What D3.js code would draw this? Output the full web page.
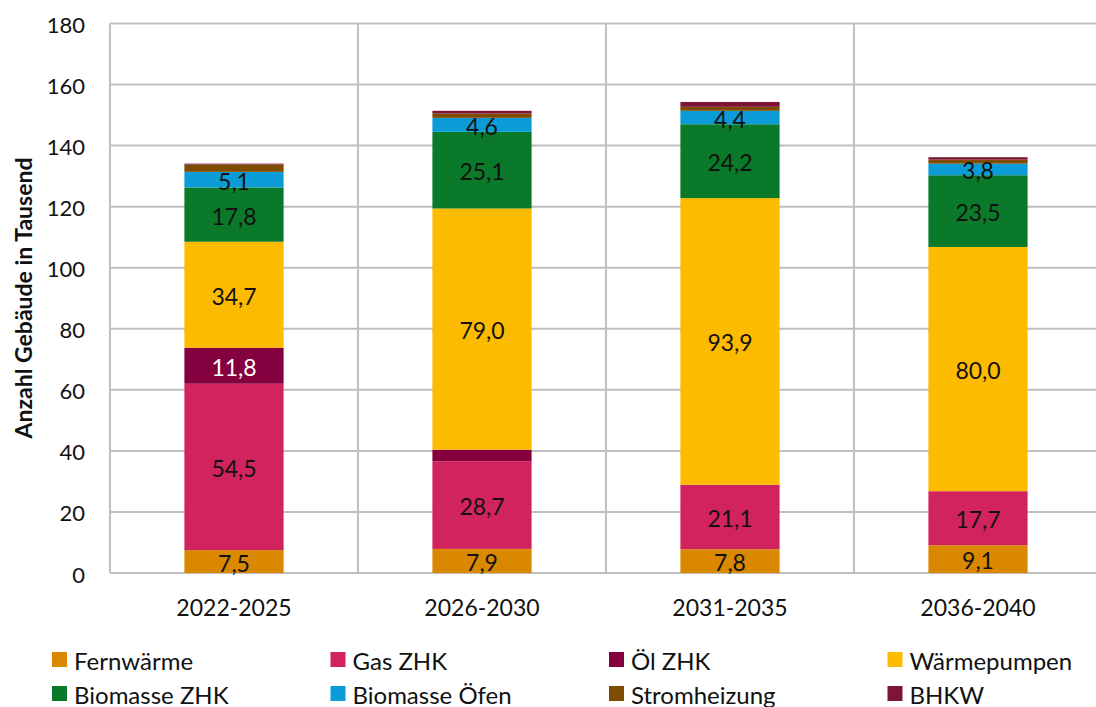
<!DOCTYPE html>
<html><head><meta charset="utf-8">
<script src="https://cdn.jsdelivr.net/npm/d3@7"></script>
<style>body{margin:0;background:#fff}svg{display:block}text{font-family:Lato,"Open Sans",sans-serif}</style>
</head><body><svg id="c" width="1096" height="707"></svg>
<script>
const categories = ["2022-2025","2026-2030","2031-2035","2036-2040"];
const seriesNames = ["Fernwärme","Gas ZHK","Öl ZHK","Wärmepumpen","Biomasse ZHK","Biomasse Öfen","Stromheizung","BHKW"];
const seriesColors = ["#d98800","#d1235e","#85003e","#fdbb00","#0a7a2a","#0b9cd8","#7f4b00","#7f1535"];
const fernwaerme = [7.5,7.9,7.8,9.1];
const gasZHK = [54.5,28.7,21.1,17.7];
const oelZHK = [11.8,3.8,0,0];
const waermepumpen = [34.7,79.0,93.9,80.0];
const biomasseZHK = [17.8,25.1,24.2,23.5];
const biomasseOefen = [5.1,4.6,4.4,3.8];
const stromheizung = [2.4,1.4,1.3,1.3];
const bhkw = [0.3,0.9,1.6,0.8];
// which segments carry a value label (per series, per category)
const labelShown = [
  [1,1,1,1],[1,1,1,1],[1,0,0,0],[1,1,1,1],[1,1,1,1],[1,1,1,1],[0,0,0,0],[0,0,0,0]
];
const yTicks = [0,20,40,60,80,100,120,140,160,180];

const seriesVals = [fernwaerme,gasZHK,oelZHK,waermepumpen,biomasseZHK,biomasseOefen,stromheizung,bhkw];
const rows = categories.map((c,i)=>{const o={cat:c,idx:i};seriesNames.forEach((s,j)=>o[s]=seriesVals[j][i]);return o;});
const stack = d3.stack().keys(seriesNames)(rows);

const svg = d3.select("#c");
const m = {l:110, t:23.5, r:1102, b:573};
const x = d3.scaleBand().domain(categories).range([m.l,m.r]).paddingInner(0.6).paddingOuter(0.3);
const xb = d3.scaleBand().domain(categories).range([m.l,m.r]);
const y = d3.scaleLinear().domain([0,180]).range([m.b,m.t]);

const grid = svg.append("g");
grid.selectAll("line.h").data(yTicks).join("line")
  .attr("x1",m.l).attr("x2",m.r).attr("y1",d=>y(d)).attr("y2",d=>y(d))
  .attr("stroke","#bfbfbf").attr("stroke-width",2);
grid.selectAll("line.v").data([m.l].concat(categories.slice(1).map(c=>xb(c)))).join("line")
  .attr("x1",d=>d).attr("x2",d=>d).attr("y1",m.t).attr("y2",m.b)
  .attr("stroke","#bfbfbf").attr("stroke-width",2);

const layers = svg.append("g").selectAll("g").data(stack).join("g")
  .attr("fill",(d,i)=>seriesColors[i]);
layers.selectAll("rect").data(d=>d).join("rect")
  .attr("x",d=>x(d.data.cat)).attr("width",x.bandwidth())
  .attr("y",d=>y(d[1])).attr("height",d=>Math.max(0,y(d[0])-y(d[1])));

const lab = svg.append("g");
stack.forEach((s,i)=>{
  s.forEach(d=>{
    if(!labelShown[i][d.data.idx]) return;
    const v=d[1]-d[0];
    lab.append("text").attr("x",x(d.data.cat)+x.bandwidth()/2).attr("y",(y(d[0])+y(d[1]))/2+1)
      .attr("text-anchor","middle").attr("dominant-baseline","central")
      .attr("font-size",23).attr("fill",i===2?"#fff":"#111")
      .text(d3.format(".1f")(v).replace(".",","));
  });
});

const ya = svg.append("g");
ya.selectAll("text").data(yTicks).join("text")
  .attr("x",85).attr("y",d=>y(d)+1).attr("text-anchor","end").attr("dominant-baseline","central")
  .attr("font-size",22).attr("fill","#111").text(d=>d);
svg.append("text").attr("transform","translate(23,298) rotate(-90)").attr("text-anchor","middle")
  .attr("dominant-baseline","central").attr("font-size",23).attr("font-weight","bold").attr("fill","#111")
  .text("Anzahl Gebäude in Tausend");

svg.append("g").selectAll("text").data(categories).join("text")
  .attr("x",d=>x(d)+x.bandwidth()/2).attr("y",607).attr("text-anchor","middle").attr("dominant-baseline","central")
  .attr("font-size",23).attr("fill","#111").text(d=>d);

const lg = svg.append("g");
seriesNames.forEach((s,i)=>{
  const cx = 52 + (i%4)*278.5, cy = i<4?659:693;
  lg.append("rect").attr("x",cx).attr("y",cy-7).attr("width",15).attr("height",15).attr("fill",seriesColors[i]);
  lg.append("text").attr("x",cx+22).attr("y",cy+1).attr("dominant-baseline","central")
    .attr("font-size",24).attr("fill","#111").text(s);
});
</script></body></html>
